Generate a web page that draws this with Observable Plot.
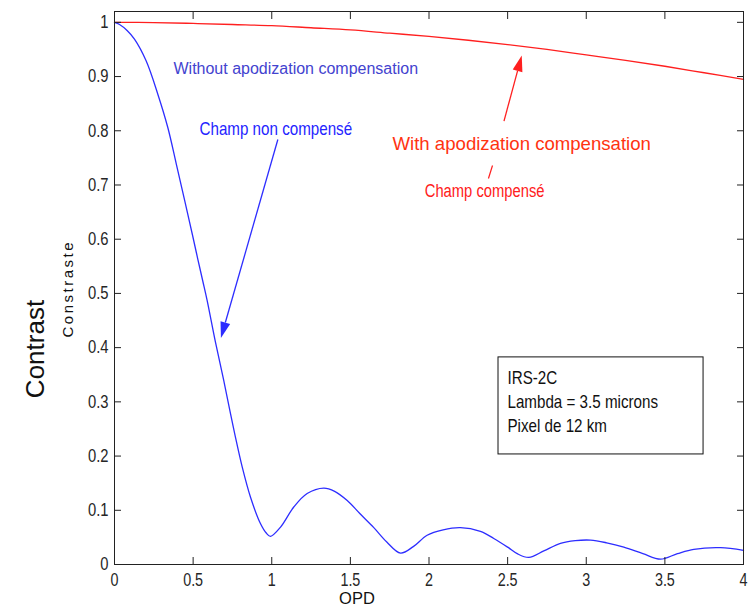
<!DOCTYPE html>
<html>
<head>
<meta charset="utf-8">
<script src="https://cdn.jsdelivr.net/npm/d3@7"></script>
<script src="https://cdn.jsdelivr.net/npm/@observablehq/plot@0.6"></script>
<style>
  html, body { margin: 0; padding: 0; background: #fff; }
  #chart { width: 754px; height: 608px; }
</style>
</head>
<body>
<div id="chart"></div>
<script>
// ---- data ----
const blueX = [0, 0.032, 0.08, 0.127, 0.201, 0.276, 0.339, 0.392, 0.445, 0.498, 0.53, 0.562, 0.589, 0.642, 0.695,
  0.738, 0.769, 0.812, 0.865, 0.928, 0.965, 0.992, 1.056, 1.14, 1.225, 1.331, 1.4, 1.48, 1.56, 1.649, 1.73, 1.819,
  1.9, 1.988, 2.09, 2.2, 2.327, 2.412, 2.5, 2.561, 2.635, 2.73, 2.836, 2.93, 3.027, 3.13, 3.239, 3.36, 3.472, 3.58,
  3.684, 3.854, 4.0];
const blueY = [1.0, 0.996, 0.985, 0.969, 0.929, 0.867, 0.806, 0.74, 0.673, 0.605, 0.563, 0.522, 0.487, 0.41, 0.339,
  0.278, 0.235, 0.18, 0.124, 0.0755, 0.058, 0.052, 0.069, 0.106, 0.131, 0.141, 0.135, 0.118, 0.094, 0.068, 0.042, 0.021,
  0.033, 0.054, 0.064, 0.068, 0.061, 0.048, 0.032, 0.02, 0.013, 0.025, 0.039, 0.044, 0.045, 0.04, 0.032, 0.02, 0.0098, 0.02,
  0.028, 0.031, 0.026];
const redX = [0, 0.25, 0.5, 0.75, 1, 1.25, 1.5, 1.75, 2, 2.25, 2.5, 2.75, 3, 3.25, 3.5, 3.75, 4];
const redY = [1.0, 0.9996, 0.998, 0.996, 0.994, 0.99, 0.986, 0.98, 0.974, 0.967, 0.959, 0.95, 0.94, 0.93, 0.919, 0.907, 0.895];

const xTicks = [0, 0.5, 1, 1.5, 2, 2.5, 3, 3.5, 4];
const yTicks = [0, 0.1, 0.2, 0.3, 0.4, 0.5, 0.6, 0.7, 0.8, 0.9, 1];
const xTickLabels = ["0", "0.5", "1", "1.5", "2", "2.5", "3", "3.5", "4"];
const yTickLabels = ["0", "0.1", "0.2", "0.3", "0.4", "0.5", "0.6", "0.7", "0.8", "0.9", "1"];

const noteText = ["Without apodization compensation", "Champ non compensé", "With apodization compensation", "Champ compensé"];
const noteX = [0.375, 0.5405, 1.768, 1.973];
const noteY = [0.914, 0.803, 0.776, 0.688];

const boxLines = ["IRS-2C", "Lambda = 3.5 microns", "Pixel de 12 km"];
const boxLineY = [0.343, 0.299, 0.255];
const boxTextX = 2.499;
const boxX1 = 2.442, boxX2 = 3.746, boxY1 = 0.203, boxY2 = 0.382;

const arrowTail = [[1.042, 0.783], [2.48, 0.817]];
const arrowTip = [[0.68, 0.417], [2.593, 0.938]];
const dashTick = [[2.404, 0.736], [2.378, 0.712]];

const xLabel = "OPD";
const yLabel = "Contrast";
const yLabel2 = "Constraste";

// ---- styles ----
const SANS = "'Liberation Sans', Arial, Helvetica, sans-serif";
const BLUE = "#2d2dff";
const RED = "#ff1f1f";

const blue = blueX.map((x, i) => ({x, y: blueY[i]}));
const red = redX.map((x, i) => ({x, y: redY[i]}));

const noteStyle = [
  {fill: "#4343cf", fontSize: 16},
  {fill: "#2424ff", fontSize: 18.5},
  {fill: "#ff3311", fontSize: 18.6},
  {fill: "#ff2020", fontSize: 18}
];

const chart = Plot.plot({
  width: 754,
  height: 608,
  marginLeft: 114,
  marginRight: 11,
  marginTop: 11,
  marginBottom: 44,
  x: {domain: [0, 4]},
  y: {domain: [0, 1.02]},
  style: {fontFamily: SANS, fontSize: "17.5px", color: "#262626", background: "#fff"},
  marks: [
    Plot.line(red, {x: "x", y: "y", stroke: RED, strokeWidth: 1.3, curve: "catmull-rom"}),
    Plot.line(blue, {x: "x", y: "y", stroke: BLUE, strokeWidth: 1.3, curve: "catmull-rom"}),
    Plot.rect([{x1: boxX1, x2: boxX2, y1: boxY1, y2: boxY2}], {x1: "x1", x2: "x2", y1: "y1", y2: "y2", fill: "#fff", stroke: "#111", strokeWidth: 1}),
    Plot.text(boxLines.map((t, i) => ({t, y: boxLineY[i]})), {x: () => boxTextX, y: "y", text: "t", textAnchor: "start", fill: "#111", fontSize: 18.5}),
    ...noteText.map((t, i) => Plot.text([{t, x: noteX[i], y: noteY[i]}], {x: "x", y: "y", text: "t", textAnchor: "start", ...noteStyle[i]})),
    Plot.link([{a: dashTick[0], b: dashTick[1]}], {x1: d => d.a[0], y1: d => d.a[1], x2: d => d.b[0], y2: d => d.b[1], stroke: RED, strokeWidth: 1.2}),
    Plot.frame({stroke: "#222", strokeWidth: 1}),
    Plot.axisX({anchor: "bottom", ticks: xTicks, tickSize: -7, fill: "none", label: null, stroke: "#222"}),
    Plot.axisX({anchor: "top", ticks: xTicks, tickSize: -7, fill: "none", label: null, stroke: "#222"}),
    Plot.axisY({anchor: "left", ticks: yTicks, tickSize: -7, fill: "none", label: null, stroke: "#222"}),
    Plot.axisY({anchor: "right", ticks: yTicks, tickSize: -7, fill: "none", label: null, stroke: "#222"}),
    Plot.axisX({anchor: "bottom", ticks: xTicks, tickSize: 0, tickPadding: 9, label: null, tickFormat: (d) => xTickLabels[xTicks.indexOf(d)]}),
    Plot.axisY({anchor: "left", ticks: yTicks, tickSize: 0, tickPadding: 6, label: null, fontSize: 18, tickFormat: (d) => yTickLabels[yTicks.indexOf(d)]})
  ]
});

document.getElementById("chart").appendChild(chart);

const sx = chart.scale("x"), sy = chart.scale("y");
const svg = d3.select(chart);

// narrow (condensed) look for the MATLAB-style texts: compress horizontally
const wideTexts = new Set([noteText[0], noteText[2]]);
svg.selectAll("text").each(function () {
  const t = this.textContent;
  if (wideTexts.has(t)) return;
  const len = this.getComputedTextLength();
  if (len > 0) {
    this.setAttribute("textLength", (len * 0.82).toFixed(2));
    this.setAttribute("lengthAdjust", "spacingAndGlyphs");
  }
});

// arrows (shaft + filled head), positioned through the plot's scales
const arrowColors = [BLUE, RED];
arrowTail.forEach((tail, i) => {
  const x1 = sx.apply(tail[0]), y1 = sy.apply(tail[1]);
  const x2 = sx.apply(arrowTip[i][0]), y2 = sy.apply(arrowTip[i][1]);
  const dx = x2 - x1, dy = y2 - y1, L = Math.hypot(dx, dy);
  const ux = dx / L, uy = dy / L, nx = -uy, ny = ux;
  const hl = 16, hw = 5;
  const bx = x2 - ux * hl, by = y2 - uy * hl;
  svg.append("line").attr("x1", x1).attr("y1", y1).attr("x2", bx).attr("y2", by)
    .attr("stroke", arrowColors[i]).attr("stroke-width", 1.3);
  svg.append("polygon")
    .attr("points", [[x2, y2], [bx + nx * hw, by + ny * hw], [bx - nx * hw, by - ny * hw]].map(p => p.join(",")).join(" "))
    .attr("fill", arrowColors[i]);
});

// axis titles
svg.append("text").attr("x", 357).attr("y", 603.8).attr("text-anchor", "middle")
  .attr("font-family", SANS).attr("font-size", 16.5).attr("fill", "#111").text(xLabel);
svg.append("text").attr("transform", "translate(35,349) rotate(-90)").attr("dy", "0.35em").attr("text-anchor", "middle")
  .attr("font-family", SANS).attr("font-size", 26).attr("fill", "#111").text(yLabel);
svg.append("text").attr("transform", "translate(68,290) rotate(-90)").attr("dy", "0.35em").attr("text-anchor", "middle")
  .attr("font-family", SANS).attr("font-size", 15).attr("textLength", 95).attr("lengthAdjust", "spacing")
  .attr("fill", "#111").text(yLabel2);
</script>
</body>
</html>
